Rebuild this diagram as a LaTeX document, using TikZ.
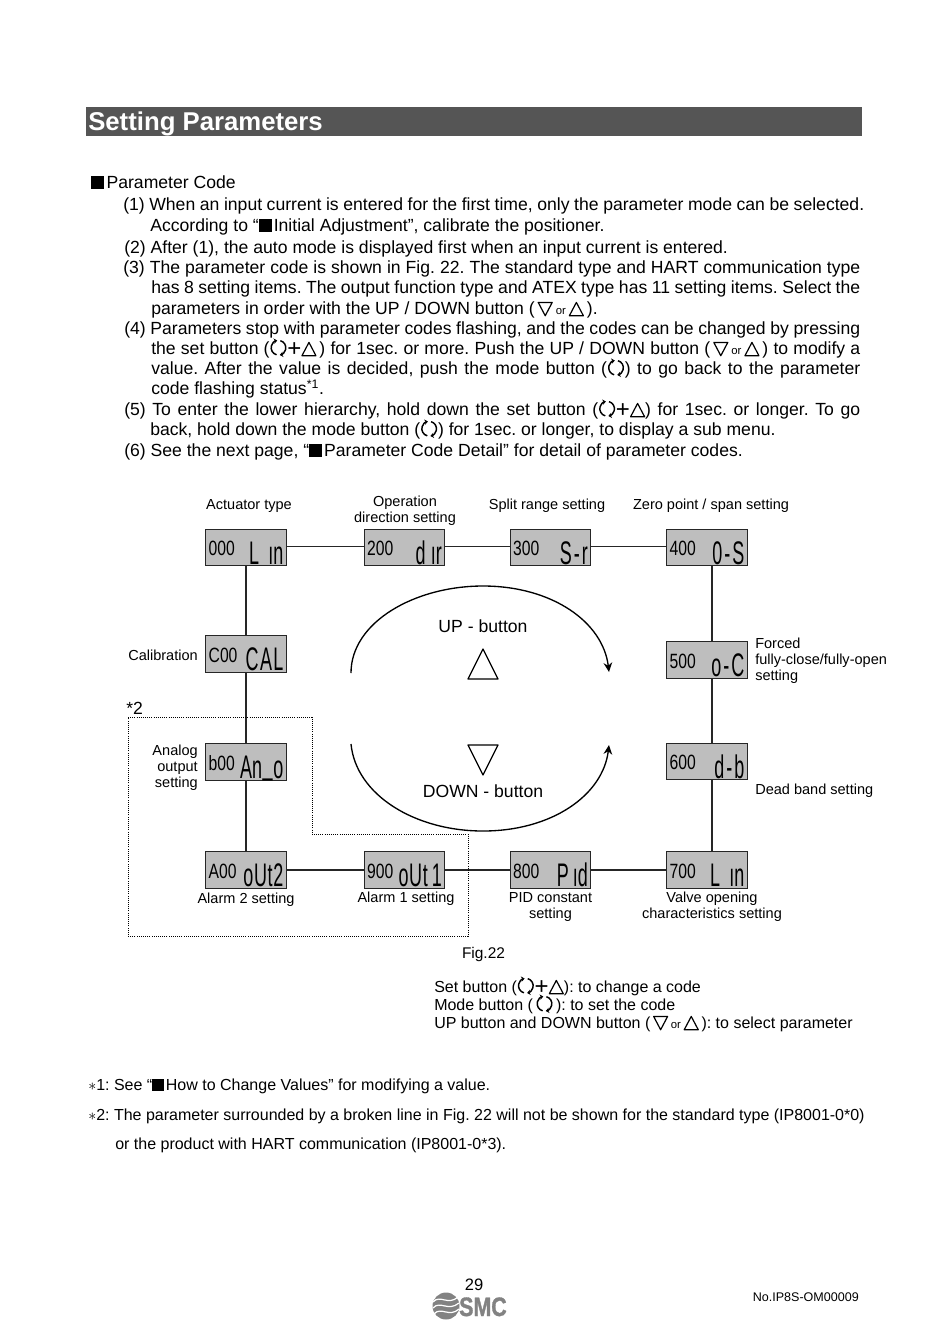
\documentclass[tikz,border=0pt]{standalone}
\usepackage{fontspec}
\setmainfont{Liberation Sans}
\newfontfamily\lcdcodefont[FakeStretch=0.76]{Liberation Sans}
\newfontfamily\lcdvalfont[FakeStretch=0.55]{Liberation Sans}
\newfontfamily\logofont[FakeStretch=0.8,BoldFeatures={FakeBold=1.2}]{Liberation Sans}
\usepackage{xcolor}
\usepackage{tikz}
\usetikzlibrary{arrows.meta, positioning, calc}
\definecolor{lcdgray}{RGB}{190,190,190}
\definecolor{bargray}{RGB}{85,85,85}
\definecolor{logogray}{RGB}{130,130,130}
\frenchspacing
\newcommand{\fitline}[2]{\makebox[0.75\dimexpr#1pt\relax][s]{#2}}
\newcommand{\blacksq}{\rule[-0.06em]{0.75em}{0.75em}}
\newcommand{\upbtn}{\tikz[baseline=1.3pt,x=1pt,y=1pt]\draw[line width=0.9pt, line join=round] (0,0) -- (10.5,0) -- (5.25,10) -- cycle;}
\newcommand{\downbtn}{\tikz[baseline=1.3pt,x=1pt,y=1pt]\draw[line width=0.9pt, line join=round] (0,10) -- (10.5,10) -- (5.25,0) -- cycle;}
\newcommand{\modebtn}{\tikz[baseline=1.3pt,x=1pt,y=1pt]{\draw[line width=1.1pt, -{Stealth[length=2.5pt,width=4pt]}] (3.58,0.69) arc[start angle=255, end angle=100, radius=5.5];
	\draw[line width=1.1pt, -{Stealth[length=2.5pt,width=4pt]}] (6.42,11.31) arc[start angle=75, end angle=-80, radius=5.5];}}
\newcommand{\setbtn}{\modebtn{\fontsize{18}{18}\selectfont\raisebox{-1.5pt}{+}}\upbtn}
\newcommand{\orword}{{\fontsize{8.5}{8.5}\selectfont or}}
\newcommand{\lcdpair}[2]{\smash{\raisebox{-6pt}{\fontsize{15.5}{15.5}\lcdcodefont #1}}\hfill\smash{\raisebox{-12.6pt}{\fontsize{24.5}{25}\lcdvalfont #2}}}
\begin{document}
\begin{tikzpicture}[
					x=0.75pt, y=-0.75pt,
					lcd/.style={rectangle, draw=black!85, fill=lcdgray, line width=0.9pt, minimum width=60.5pt, minimum height=27.5pt, text width=56pt, inner sep=1pt},
					lbl/.style={font=\fontsize{10.9}{12}\selectfont, align=center, inner sep=0pt},
					bigname/.style={lbl, font=\fontsize{13.2}{15}\selectfont},
					bodyline/.style={anchor=base west, font=\fontsize{13.2}{15}\selectfont, inner sep=0pt},
					noteline/.style={anchor=base west, font=\fontsize{12}{15}\selectfont, inner sep=0pt},
					link/.style={line width=0.9pt, black!85},
					turn/.style={line width=1pt, -{Stealth[length=7pt,width=6.5pt]}},
					btnmark/.style={line width=0.9pt, line join=round}
					]
					\useasboundingbox (0,0) rectangle (950,1340);
					
					% Header
					\fill[bargray] (86,107) rectangle (862,136);
					\node[anchor=base west, inner sep=0pt, text=white, font=\fontsize{19.3}{24}\selectfont\bfseries] (title) at (88,130.5) {Setting Parameters};
					
					% Text lines
					\node[bodyline] (head) at (91,188) {\blacksq\hspace{0.12em}Parameter Code};
					\node[bodyline] (p1a) at (123,210) {\fitline{741}{(1) When an input current is entered for the first time, only the parameter mode can be selected.}};
					\node[bodyline] (p1b) at (150,231) {According to “\blacksq\hspace{0.1em}Initial Adjustment”, calibrate the positioner.};
					\node[bodyline] (p2a) at (124,253) {(2) After (1), the auto mode is displayed first when an input current is entered.};
					\node[bodyline] (p3a) at (123,273) {\fitline{737}{(3) The parameter code is shown in Fig. 22. The standard type and HART communication type}};
					\node[bodyline] (p3b) at (151,293) {\fitline{709}{has 8 setting items. The output function type and ATEX type has 11 setting items. Select the}};
					\node[bodyline] (p3c) at (151,314) {parameters in order with the UP / DOWN button (\,\downbtn\,\orword\,\upbtn\,).};
					\node[bodyline] (p4a) at (124,334) {\fitline{736}{(4) Parameters stop with parameter codes flashing, and the codes can be changed by pressing}};
					\node[bodyline] (p4b) at (151,354) {\fitline{709}{the set button (\setbtn\,) for 1sec. or more. Push the UP / DOWN button (\,\downbtn\,\orword\,\upbtn\,) to modify a}};
					\node[bodyline] (p4c) at (151,374) {\fitline{709}{value. After the value is decided, push the mode button (\modebtn) to go back to the parameter}};
					\node[bodyline] (p4d) at (151,394) {code flashing status\textsuperscript{*1}.};
					\node[bodyline] (p5a) at (124,415) {\fitline{736}{(5) To enter the lower hierarchy, hold down the set button (\setbtn) for 1sec. or longer. To go}};
					\node[bodyline] (p5b) at (150,435) {back, hold down the mode button (\modebtn) for 1sec. or longer, to display a sub menu.};
					\node[bodyline] (p6a) at (124,456) {(6) See the next page, “\blacksq\hspace{0.1em}Parameter Code Detail” for detail of parameter codes.};
					
					% Displays
					\node[lcd] (n000) at (246,547.5) {\lcdpair{000}{L\hspace{7pt}ın}};
					\node[lcd] (n200) at (404.5,547.5) {\lcdpair{200}{d\hspace{4pt}ır}};
					\node[lcd] (n300) at (550.5,547.5) {\lcdpair{300}{S\hspace{1.5pt}-\hspace{1.5pt}r}};
					\node[lcd] (n400) at (707,547.5) {\lcdpair{400}{0\hspace{1.5pt}-\hspace{1.5pt}S}};
					\node[lcd] (n500) at (707,660) {\lcdpair{500}{o\hspace{1.5pt}-\hspace{1.5pt}C}};
					\node[lcd] (n600) at (707,761.5) {\lcdpair{600}{d\hspace{1.5pt}-\hspace{1.5pt}b}};
					\node[lcd] (n700) at (707,870) {\lcdpair{700}{L\hspace{7pt}ın}};
					\node[lcd] (n800) at (550.5,870) {\lcdpair{800}{P\hspace{3pt}ıd}};
					\node[lcd] (n900) at (404.5,870) {\lcdpair{900}{o\hspace{0.5pt}U\hspace{0.5pt}t\hspace{3pt}1}};
					\node[lcd] (nA00) at (246,870) {\lcdpair{A00}{o\hspace{0.5pt}U\hspace{0.5pt}t\hspace{0.5pt}2}};
					\node[lcd] (nb00) at (246,762) {\lcdpair{b00}{An\hspace{0.5pt}\raisebox{3pt}{\_}\hspace{0.5pt}o}};
					\node[lcd] (nC00) at (246,654) {\lcdpair{C00}{C\hspace{1pt}A\hspace{1pt}L}};
					
					% Labels
					\node[lbl] (actuator) at (249,506) {Actuator type};
					\node[lbl] (direction) at (405,511) {Operation\\direction setting};
					\node[lbl] (split) at (547,506) {Split range setting};
					\node[lbl] (zero) at (711,506) {Zero point / span setting};
					\node[lbl, anchor=east] (calib) at (198,655.5) {Calibration};
					\node[lbl, anchor=west, align=left] (forced) at (755,661) {Forced\\fully-close/fully-open\\setting};
					\node[lbl, anchor=east, align=right] (analog) at (198,768) {Analog\\output\\setting};
					\node[lbl, anchor=west] (deadband) at (755,791) {Dead band setting};
					\node[lbl] (alarmtwo) at (246,899.5) {Alarm 2 setting};
					\node[lbl] (alarmone) at (406,898.5) {Alarm 1 setting};
					\node[lbl] (pid) at (550.5,907) {PID constant\\setting};
					\node[lbl] (valve) at (712,907) {Valve opening\\characteristics setting};
					\node[lbl, font=\fontsize{11.6}{12}\selectfont] (fig) at (483.5,954.5) {Fig.22};
					\node[anchor=base west, inner sep=0pt, font=\fontsize{13.2}{15}\selectfont] (star) at (126,714) {*2};
					
					% Links
					\draw[link] ([yshift=0.75pt]n000.east) -- ([yshift=0.75pt]n200.west);
					\draw[link] ([yshift=0.75pt]n200.east) -- ([yshift=0.75pt]n300.west);
					\draw[link] ([yshift=0.75pt]n300.east) -- ([yshift=0.75pt]n400.west);
					\draw[link] (n000) -- (nC00);
					\draw[link] (nC00) -- (nb00);
					\draw[link] (nb00) -- (nA00);
					\draw[link] (nA00) -- (n900);
					\draw[link] (n900) -- (n800);
					\draw[link] (n800) -- (n700);
					\draw[link] ([xshift=3.75pt]n400.south) -- ([xshift=3.75pt]n500.north);
					\draw[link] ([xshift=3.75pt]n500.south) -- ([xshift=3.75pt]n600.north);
					\draw[link] ([xshift=3.75pt]n600.south) -- ([xshift=3.75pt]n700.north);
					
					% Broken line
					\draw[densely dotted, line width=0.6pt] (128,717) -- (312,717) -- (312,834) -- (468,834) -- (468,936) -- (128,936) -- cycle;
					
					% Centre of the ring
					\coordinate (upstart) at (351,673);
					\coordinate (uptop) at (483,586);
					\coordinate (upend) at (609,672);
					\coordinate (downstart) at (351,744);
					\coordinate (downlow) at (483,831);
					\coordinate (downend) at (609,745);
					\draw[turn] (upstart) .. controls (351,622) and (415,586) .. (uptop) .. controls (552,586) and (603,622) .. (upend);
					\draw[turn] (downstart) .. controls (356,795) and (415,831) .. (downlow) .. controls (552,831) and (603,795) .. (downend);
					\node[bigname] (upname) at (483,626.5) {UP - button};
					\node[bigname] (downname) at (483,791.5) {DOWN - button};
					\draw[btnmark] (468,679) -- (498,679) -- (483,649) -- cycle;
					\draw[btnmark] (468,745) -- (498,745) -- (483,775) -- cycle;
					
					% Key
					\node[noteline] (keyset) at (434,992) {Set button (\setbtn): to change a code};
					\node[noteline] (keymode) at (434,1010) {Mode button (\,\modebtn\,): to set the code};
					\node[noteline] (keyupdown) at (434,1028) {UP button and DOWN button (\,\downbtn\,\orword\,\upbtn\,): to select parameter};
					
					% Notes
					\node[noteline] (noteone) at (88,1090) {$*$1: See “\blacksq\hspace{0.1em}How to Change Values” for modifying a value.};
					\node[noteline] (notetwoa) at (88,1120) {$*$2: The parameter surrounded by a broken line in Fig. 22 will not be shown for the standard type (IP8001-0*0)};
					\node[noteline] (notetwob) at (115,1149) {or the product with HART communication (IP8001-0*3).};
					
					% Foot
					\node[lbl, font=\fontsize{12.4}{15}\selectfont] (pagenum) at (474,1285) {29};
					\node[anchor=base east, inner sep=0pt, font=\fontsize{9.4}{12}\selectfont] (docno) at (859,1301) {No.IP8S-OM00009};
					\fill[logogray] (446,1306) circle[radius=13.5];
					\draw[white, line width=0.9pt] (433,1302) .. controls (440,1294) and (448,1306) .. (458,1297);
					\draw[white, line width=0.9pt] (433,1308) .. controls (440,1300) and (448,1312) .. (459,1303);
					\draw[white, line width=0.9pt] (434,1314) .. controls (441,1306) and (449,1318) .. (459,1309);
					\node[anchor=base west, inner sep=0pt, text=logogray, font=\fontsize{20}{20}\logofont\bfseries] (logo) at (459,1316) {SMC};
				\end{tikzpicture}
\end{document}
